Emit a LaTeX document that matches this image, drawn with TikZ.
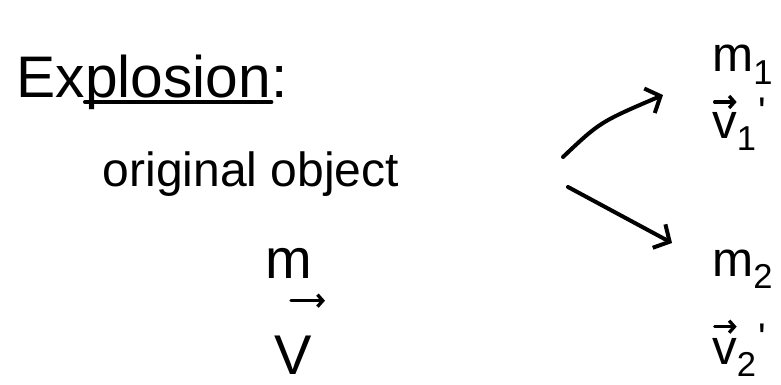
\documentclass[tikz,border=0pt]{standalone}
\usepackage{fontspec}
\setmainfont{Liberation Sans}
\usetikzlibrary{arrows.meta}
\begin{document}
\tikzset{
  ink/.style={line width=3pt, line cap=round, line join=round},
  hand/.style={inner sep=0pt, font=\fontsize{36}{40}\selectfont},
  frag/.style={inner sep=0pt, font=\fontsize{42}{46}\selectfont},
  side/.style={inner sep=0pt, font=\fontsize{37}{40}\selectfont},
  big/.style={inner sep=0pt, font=\fontsize{44}{48}\selectfont},
  branch/.style={ink, -{Straight Barb[length=9pt,width=20pt,line width=3pt]}},
  vecbar/.style={ink, line width=2.5pt, -{Straight Barb[length=4pt,width=9pt,line width=2.5pt]}},
}
\newcommand\primemark{\textsuperscript{\fontsize{30}{30}\selectfont\kern1pt\textquotesingle}}
\begin{tikzpicture}[x=0.75pt,y=-0.75pt]
\useasboundingbox[fill=white] (0,0) rectangle (781,385);
% title
\node[big,anchor=base west] (t1) at (16,98) {Ex};
\node[big,anchor=base west] (t2) at (t1.base east) {plosion};
\node[big,anchor=base west] (t3) at (t2.base east) {:};
\draw[ink] ([yshift=-3pt]t2.base west) -- ([yshift=-3pt]t2.base east);
% original object
\node[hand,anchor=base] (orig) at (251,186) {original object};
\node[frag,anchor=base] (m) at (289,278) {m};
\node[frag,anchor=base] (V) at (293,374) {V};
\draw[vecbar] ([xshift=-1.5pt,yshift=55pt]V.base) -- ++(34,0);
% fragments
\node[side,anchor=base west] (m1) at (712,72) {m\textsubscript{1}};
\node[side,anchor=base west] (v1) at (712,138) {v\textsubscript{1}\primemark};
\draw[vecbar] ([xshift=2pt,yshift=27pt]v1.base west) -- ++(22,0);
\node[side,anchor=base west] (m2) at (712,276) {m\textsubscript{2}};
\node[side,anchor=base west] (v2) at (712,364) {v\textsubscript{2}\primemark};
\draw[vecbar] ([xshift=2pt,yshift=28pt]v2.base west) -- ++(22,0);
% branches
\coordinate (a1s) at (563,157);
\coordinate (a1e) at (663,95);
\coordinate (a2s) at (568,187);
\coordinate (a2e) at (672,243);
\draw[branch] (a1s) .. controls (600,122) .. (a1e);
\draw[branch] (a2s) -- (a2e);
\end{tikzpicture}
\end{document}
